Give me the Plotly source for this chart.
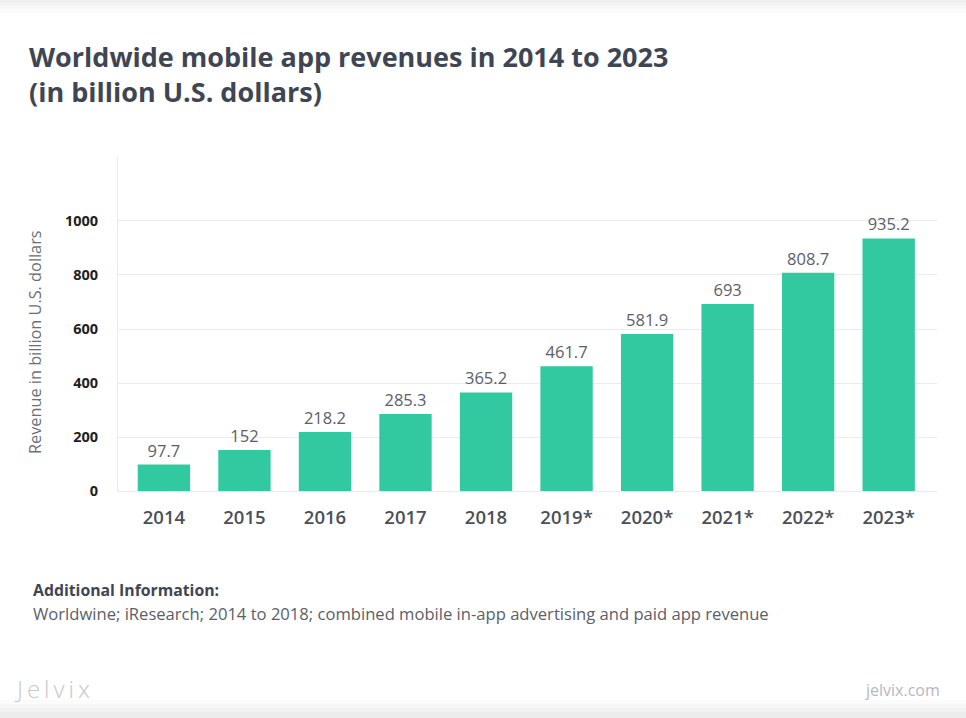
import plotly.graph_objects as go

years = ["2014", "2015", "2016", "2017", "2018", "2019*", "2020*", "2021*", "2022*", "2023*"]
revenue = [97.7, 152, 218.2, 285.3, 365.2, 461.7, 581.9, 693, 808.7, 935.2]
value_labels = ["97.7", "152", "218.2", "285.3", "365.2", "461.7", "581.9", "693", "808.7", "935.2"]
y_ticks = [0, 200, 400, 600, 800, 1000]

FONT = "'Open Sans', Lato, sans-serif"
W, H = 966, 718
L, R, T, B = 118, 29, 157, 227
PW, PH = W - L - R, H - T - B


def px(x):
    return (x - L) / PW


def py(y):
    return (H - B - y) / PH


fig = go.Figure(go.Bar(
    x=years, y=revenue, text=value_labels, textposition="outside",
    textfont=dict(family=FONT, size=16.5, color="#5b6068"),
    marker=dict(color="#33C9A0", line=dict(width=0)),
    cliponaxis=False, width=0.65,
))

fig.update_layout(
    width=W, height=H,
    paper_bgcolor="white", plot_bgcolor="white",
    margin=dict(l=L, r=R, t=T, b=B),
    showlegend=False,
    font=dict(family=FONT),
    xaxis=dict(
        range=[-0.57, 9.6],
        showgrid=False, showline=True, linecolor="#ebebeb", linewidth=1,
        tickfont=dict(family=FONT, size=18.5, color="#4a4f58", weight=600),
        ticks="", ticklabelstandoff=10,
    ),
    yaxis=dict(
        range=[0, 1237], tickvals=y_ticks,
        showgrid=True, gridcolor="#ebebeb", gridwidth=1,
        showline=True, linecolor="#ebebeb", linewidth=1,
        zeroline=False,
        tickfont=dict(family=FONT, size=14.5, color="#1e1e1e", weight="bold"),
        ticks="", ticklabelstandoff=16,
    ),
)

# y-axis title
fig.add_annotation(text="Revenue in billion U.S. dollars", textangle=-90,
                   xref="paper", yref="paper", x=px(35), y=py(342), xanchor="center", yanchor="middle",
                   showarrow=False, font=dict(family=FONT, size=16.3, color="#6a6f76"))

# title
fig.add_annotation(text="<b>Worldwide mobile app revenues in 2014 to 2023<br>(in billion U.S. dollars)</b>",
                   xref="paper", yref="paper", x=px(27), y=py(74), xanchor="left", yanchor="middle",
                   align="left", showarrow=False, font=dict(family=FONT, size=27, color="#3f4653"))

fig.add_annotation(text="<b>Additional Information:</b>", xref="paper", yref="paper",
                   x=px(31), y=py(590), xanchor="left", yanchor="middle",
                   showarrow=False, font=dict(family=FONT, size=15.8, color="#3f4653"))
fig.add_annotation(text="Worldwine; iResearch; 2014 to 2018; combined mobile in-app advertising and paid app revenue",
                   xref="paper", yref="paper", x=px(31), y=py(613), xanchor="left", yanchor="middle",
                   showarrow=False, font=dict(family=FONT, size=16.6, color="#5b6068"))
fig.add_annotation(text="J\u2009e\u2009l\u2009v\u2009i\u2009x", xref="paper", yref="paper",
                   x=px(12), y=py(688), xanchor="left", yanchor="middle",
                   showarrow=False, font=dict(family=FONT, size=24, color="#c6c8cb", weight=300))
fig.add_annotation(text="jelvix.com", xref="paper", yref="paper",
                   x=px(942), y=py(690), xanchor="right", yanchor="middle",
                   showarrow=False, font=dict(family=FONT, size=16, color="#b6b9bd"))

# subtle shaded edges at top and bottom of the picture
top_bands = [(0, 3, "#efefef"), (3, 6, "#f3f3f3"), (6, 9, "#f7f7f7"), (9, 13, "#fbfbfb")]
bottom_bands = [(700, 704, "#fbfbfb"), (704, 708, "#f6f6f6"), (708, 712, "#f1f1f1"), (712, 718, "#ececec")]
for y0, y1, c in top_bands + bottom_bands:
    fig.add_shape(type="rect", xref="paper", yref="paper", x0=px(0), x1=px(W), y0=py(y1), y1=py(y0),
                  fillcolor=c, line=dict(width=0), layer="below")

fig.write_html("out.html", config={"displayModeBar": False},
               post_script="document.body.style.margin='0';document.body.style.overflow='hidden';")
